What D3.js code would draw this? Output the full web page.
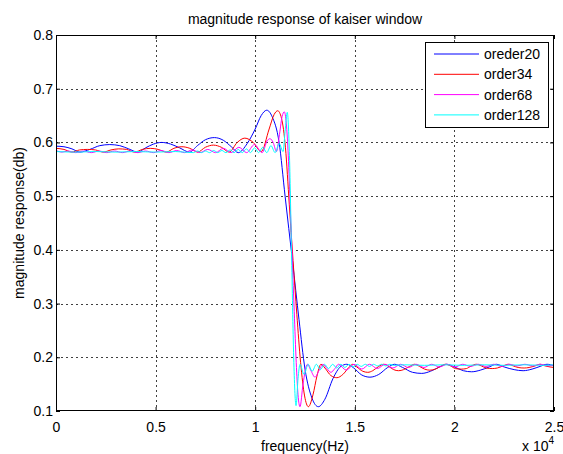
<!DOCTYPE html>
<html>
<head>
<meta charset="utf-8">
<script src="https://cdn.jsdelivr.net/npm/d3@7"></script>
<style>
  html, body { margin: 0; padding: 0; background: #fff; }
  svg { display: block; font-family: "Liberation Sans", Arial, Helvetica, sans-serif; }
</style>
</head>
<body>
<svg id="chart" width="563" height="454"></svg>
<script>
// ---- data (frequency in units of 1e4 Hz, magnitude) ----
const title = "magnitude response of kaiser window";
const xLabel = "frequency(Hz)";
const yLabel = "magnitude response(db)";
const xTicks = [0, 0.5, 1, 1.5, 2, 2.5];
const xTickLabels = ["0", "0.5", "1", "1.5", "2", "2.5"];
const yTicks = [0.1, 0.2, 0.3, 0.4, 0.5, 0.6, 0.7, 0.8];
const yTickLabels = ["0.1", "0.2", "0.3", "0.4", "0.5", "0.6", "0.7", "0.8"];
const seriesNames = ["oreder20", "order34", "order68", "order128"];
const seriesColors = ["#0000ff", "#ff0000", "#ff00ff", "#00ffff"];

const order20 = [[0,0.593],[0.04,0.592],[0.08,0.588],[0.12,0.582],[0.17,0.587],[0.22,0.594],[0.27,0.596],[0.32,0.594],[0.365,0.588],[0.41,0.582],[0.45,0.590],[0.49,0.597],[0.53,0.600],[0.575,0.597],[0.62,0.590],[0.67,0.582],[0.71,0.594],[0.75,0.605],[0.795,0.609],[0.84,0.604],[0.88,0.592],[0.915,0.581],[0.96,0.598],[1.0,0.625],[1.03,0.650],[1.058,0.660],[1.085,0.648],[1.12,0.600],[1.15,0.500],[1.187,0.380],[1.22,0.270],[1.25,0.178],[1.285,0.124],[1.317,0.108],[1.35,0.122],[1.39,0.160],[1.43,0.183],[1.46,0.187],[1.495,0.180],[1.535,0.167],[1.576,0.163],[1.62,0.168],[1.665,0.181],[1.70,0.187],[1.74,0.181],[1.79,0.172],[1.836,0.170],[1.88,0.174],[1.925,0.182],[1.96,0.187],[2.0,0.182],[2.045,0.175],[2.087,0.173],[2.13,0.176],[2.175,0.182],[2.21,0.187],[2.25,0.182],[2.30,0.177],[2.345,0.175],[2.39,0.178],[2.43,0.183],[2.465,0.187],[2.5,0.184]];

const order34 = [[0,0.589],[0.04,0.587],[0.079,0.582],[0.118,0.586],[0.158,0.587],[0.198,0.586],[0.237,0.582],[0.276,0.586],[0.315,0.588],[0.355,0.587],[0.394,0.582],[0.434,0.587],[0.473,0.589],[0.513,0.587],[0.553,0.582],[0.592,0.589],[0.632,0.592],[0.672,0.589],[0.711,0.582],[0.75,0.591],[0.79,0.595],[0.83,0.591],[0.869,0.582],[0.91,0.600],[0.948,0.608],[0.99,0.600],[1.03,0.583],[1.07,0.625],[1.095,0.652],[1.113,0.659],[1.132,0.645],[1.152,0.590],[1.171,0.485],[1.19,0.380],[1.209,0.280],[1.228,0.190],[1.248,0.128],[1.267,0.108],[1.29,0.130],[1.31,0.165],[1.33,0.187],[1.35,0.180],[1.38,0.166],[1.41,0.162],[1.44,0.168],[1.47,0.181],[1.49,0.187],[1.51,0.182],[1.54,0.174],[1.565,0.172],[1.59,0.175],[1.62,0.183],[1.645,0.187],[1.67,0.183],[1.695,0.177],[1.72,0.175],[1.745,0.177],[1.775,0.183],[1.80,0.187],[1.825,0.183],[1.85,0.178],[1.877,0.176],[1.905,0.178],[1.93,0.183],[1.955,0.187],[1.98,0.184],[2.005,0.179],[2.035,0.178],[2.06,0.179],[2.085,0.184],[2.11,0.187],[2.135,0.184],[2.16,0.180],[2.19,0.179],[2.215,0.180],[2.245,0.184],[2.27,0.187],[2.295,0.184],[2.32,0.181],[2.35,0.180],[2.375,0.181],[2.405,0.184],[2.43,0.187],[2.455,0.184],[2.48,0.182],[2.5,0.181]];

const order68 = [[0,0.585],[0.03,0.582],[0.06,0.584],[0.099,0.581],[0.138,0.584],[0.177,0.581],[0.216,0.584],[0.255,0.581],[0.294,0.584],[0.333,0.581],[0.372,0.584],[0.411,0.581],[0.45,0.584],[0.489,0.581],[0.528,0.585],[0.567,0.581],[0.606,0.585],[0.645,0.581],[0.684,0.586],[0.723,0.581],[0.762,0.587],[0.801,0.581],[0.84,0.589],[0.879,0.581],[0.918,0.591],[0.957,0.581],[0.996,0.596],[1.035,0.581],[1.06,0.603],[1.074,0.607],[1.09,0.600],[1.107,0.583],[1.12,0.610],[1.135,0.648],[1.146,0.657],[1.156,0.636],[1.166,0.575],[1.176,0.480],[1.186,0.383],[1.196,0.285],[1.206,0.190],[1.215,0.130],[1.225,0.108],[1.24,0.150],[1.262,0.187],[1.28,0.175],[1.30,0.163],[1.32,0.175],[1.34,0.187],[1.36,0.179],[1.38,0.172],[1.40,0.179],[1.418,0.187],[1.457,0.176],[1.496,0.187],[1.535,0.178],[1.574,0.187],[1.613,0.179],[1.652,0.187],[1.691,0.180],[1.73,0.187],[1.769,0.181],[1.808,0.187],[1.847,0.181],[1.886,0.187],[1.925,0.182],[1.964,0.187],[2.003,0.182],[2.042,0.187],[2.081,0.183],[2.12,0.187],[2.159,0.183],[2.198,0.187],[2.237,0.183],[2.276,0.187],[2.315,0.184],[2.354,0.187],[2.393,0.184],[2.432,0.187],[2.471,0.184],[2.5,0.186]];

const order128 = [[0,0.583],[0.1,0.582],[0.2,0.583],[0.3,0.582],[0.4,0.583],[0.5,0.582],[0.6,0.583],[0.69,0.581],[0.71,0.584],[0.73,0.581],[0.751,0.584],[0.771,0.581],[0.792,0.585],[0.812,0.581],[0.833,0.585],[0.853,0.581],[0.874,0.586],[0.894,0.581],[0.915,0.587],[0.935,0.581],[0.956,0.588],[0.976,0.581],[0.997,0.590],[1.017,0.581],[1.038,0.591],[1.058,0.581],[1.079,0.594],[1.10,0.581],[1.12,0.598],[1.14,0.583],[1.15,0.620],[1.161,0.656],[1.172,0.575],[1.183,0.383],[1.194,0.190],[1.205,0.110],[1.215,0.160],[1.225,0.187],[1.245,0.168],[1.266,0.187],[1.286,0.174],[1.307,0.187],[1.327,0.177],[1.348,0.187],[1.368,0.179],[1.389,0.187],[1.409,0.180],[1.43,0.187],[1.45,0.181],[1.471,0.187],[1.491,0.182],[1.512,0.187],[1.532,0.183],[1.553,0.187],[1.573,0.183],[1.594,0.187],[1.614,0.184],[1.635,0.187],[1.655,0.184],[1.676,0.187],[1.696,0.185],[1.75,0.186],[1.85,0.185],[1.95,0.186],[2.05,0.185],[2.15,0.186],[2.25,0.185],[2.35,0.186],[2.45,0.185],[2.5,0.186]];

const allSeries = [order20, order34, order68, order128];

// ---- layout ----
const L = 56, R = 554, T = 35, B = 411;
const svg = d3.select("#chart");
const x = d3.scaleLinear().domain([0, 2.5]).range([L, R]);
const y = d3.scaleLinear().domain([0.1, 0.8]).range([B, T]);
const FS = 14;

svg.append("rect").attr("x", L).attr("y", T).attr("width", R - L).attr("height", B - T).attr("fill", "#fff");

// grid
const grid = svg.append("g").attr("stroke", "#000").attr("stroke-width", 1)
  .attr("stroke-dasharray", "2,3").attr("opacity", 0.75).attr("shape-rendering", "crispEdges");
xTicks.filter(d => d > 0 && d < 2.5).forEach(d => {
  grid.append("line").attr("x1", Math.round(x(d)) + 0.5).attr("x2", Math.round(x(d)) + 0.5).attr("y1", T).attr("y2", B);
});
yTicks.filter(d => d > 0.1 && d < 0.8).forEach(d => {
  grid.append("line").attr("x1", L).attr("x2", R).attr("y1", Math.round(y(d)) + 0.5).attr("y2", Math.round(y(d)) + 0.5);
});

// lines
svg.append("clipPath").attr("id", "clip").append("rect")
  .attr("x", L).attr("y", T).attr("width", R - L).attr("height", B - T);
const line = d3.line().x(d => x(d[0])).y(d => y(d[1])).curve(d3.curveMonotoneX);
const lines = svg.append("g").attr("clip-path", "url(#clip)");
allSeries.forEach((s, i) => {
  lines.append("path").attr("d", line(s)).attr("fill", "none")
    .attr("stroke", seriesColors[i]).attr("stroke-width", 1);
});

// axes
function styleAxis(g) {
  g.select(".domain").remove();
  g.selectAll(".tick line").attr("stroke", "#000");
  g.selectAll(".tick text").attr("fill", "#000").attr("font-size", FS).attr("font-family", null);
}
svg.append("g").attr("transform", `translate(0,${B})`)
  .call(d3.axisBottom(x).tickValues(xTicks).tickFormat((d, i) => xTickLabels[i]).tickSizeInner(-4).tickSizeOuter(0).tickPadding(11))
  .call(styleAxis);
svg.append("g").attr("transform", `translate(0,${T})`)
  .call(d3.axisTop(x).tickValues(xTicks).tickFormat("").tickSizeInner(-4).tickSizeOuter(0))
  .call(styleAxis);
svg.append("g").attr("transform", `translate(${L},0)`)
  .call(d3.axisLeft(y).tickValues(yTicks).tickFormat((d, i) => yTickLabels[i]).tickSizeInner(-4).tickSizeOuter(0).tickPadding(3))
  .call(styleAxis);
svg.append("g").attr("transform", `translate(${R},0)`)
  .call(d3.axisRight(y).tickValues(yTicks).tickFormat("").tickSizeInner(-4).tickSizeOuter(0))
  .call(styleAxis);

// box
svg.append("rect").attr("x", L + 0.5).attr("y", T + 0.5).attr("width", R - L - 1).attr("height", B - T - 1)
  .attr("fill", "none").attr("stroke", "#000").attr("stroke-width", 1).attr("shape-rendering", "crispEdges");

// texts
svg.append("text").attr("x", (L + R) / 2).attr("y", 24).attr("text-anchor", "middle")
  .attr("font-size", FS).text(title);
svg.append("text").attr("x", (L + R) / 2).attr("y", 451).attr("text-anchor", "middle")
  .attr("font-size", FS).text(xLabel);
svg.append("text").attr("transform", `translate(24,${(T + B) / 2}) rotate(-90)`).attr("text-anchor", "middle")
  .attr("font-size", FS).text(yLabel);
const ex = svg.append("text").attr("x", 522).attr("y", 451).attr("font-size", FS);
ex.append("tspan").text("x 10");
ex.append("tspan").attr("font-size", 10).attr("dy", -7).text("4");

// legend
const lg = svg.append("g");
lg.append("rect").attr("x", 425.5).attr("y", 42.5).attr("width", 123).attr("height", 85)
  .attr("fill", "#fff").attr("stroke", "#000").attr("stroke-width", 1).attr("shape-rendering", "crispEdges");
seriesNames.forEach((n, i) => {
  const yy = 54 + i * 20.3;
  lg.append("line").attr("x1", 434).attr("x2", 479).attr("y1", yy).attr("y2", yy)
    .attr("stroke", seriesColors[i]).attr("stroke-width", 1);
  lg.append("text").attr("x", 484).attr("y", yy + 5).attr("font-size", FS).text(n);
});
</script>
</body>
</html>
